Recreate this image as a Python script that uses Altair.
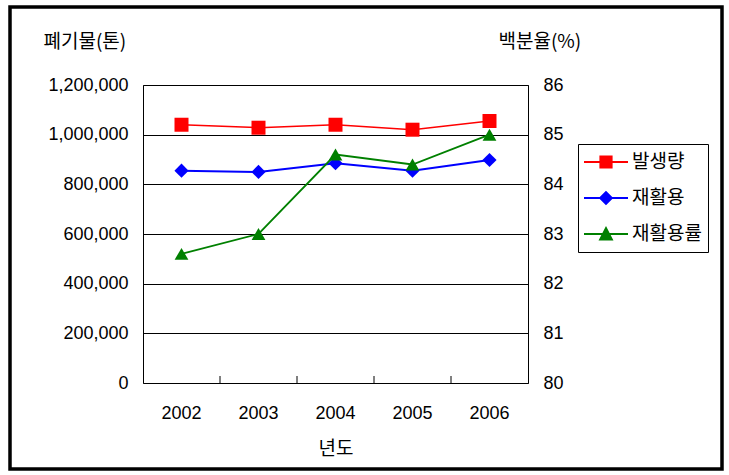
import altair as alt
import pandas as pd

# ---- data ----
years = ["2002", "2003", "2004", "2005", "2006"]
generation = [1040000, 1028000, 1040000, 1020000, 1055000]   # 발생량 (톤)
recycled = [855000, 850000, 885000, 855000, 898000]          # 재활용 (톤)
recycle_rate = [82.6, 83.0, 84.6, 84.4, 85.0]                # 재활용률 (%)

series_names = ["발생량", "재활용", "재활용률"]
series_colors = ["#FF0000", "#0000FF", "#008000"]
left_ticks = [0, 200000, 400000, 600000, 800000, 1000000, 1200000]
right_ticks = [80, 81, 82, 83, 84, 85, 86]

df = pd.DataFrame({"year": years, "gen": generation, "rec": recycled, "rate": recycle_rate})
tick_df = pd.DataFrame({"year": years[1:]})
legend_df = pd.DataFrame({"series": series_names})
frame_df = pd.DataFrame({"k": [0]})

KR = "Noto Sans CJK KR"
NUM = "Liberation Sans"
W, H = 385, 298

x_scale = alt.Scale(type="band", domain=years, paddingInner=0, paddingOuter=0)
x_axis = alt.Axis(title="년도", labelAngle=0, ticks=False, domain=False, grid=False,
                  labelPadding=30, labelBaseline="middle", labelFont=NUM, labelFontSize=18,
                  labelColor="black", titleFont=KR, titleFontSize=19, titleFontWeight="normal",
                  titleColor="black", titleY=65, titleBaseline="middle")


def xenc(**kw):
    return alt.X("year:N", scale=x_scale, axis=x_axis, **kw)


left_axis = alt.Axis(values=left_ticks, format=",.0f", grid=True, gridColor="black", gridWidth=1,
                     gridOpacity=1, ticks=False, domain=False, labelPadding=15, labelFont=NUM,
                     labelFontSize=18, labelColor="black", title="폐기물(톤)", titleAngle=0,
                     titleAlign="left", titleBaseline="middle", titleX=-100, titleY=-44,
                     titleFont=KR, titleFontSize=19, titleFontWeight="normal", titleColor="black")
left_scale = alt.Scale(domain=[0, 1200000], nice=False, zero=True)

right_axis = alt.Axis(values=right_ticks, orient="right", grid=False, ticks=False, domain=False,
                      labelPadding=15, labelFont=NUM, labelFontSize=18, labelColor="black",
                      title="백분율(%)", titleAngle=0, titleAlign="left", titleBaseline="middle",
                      titleX=-30, titleY=-44, titleFont=KR, titleFontSize=19,
                      titleFontWeight="normal", titleColor="black")
right_scale = alt.Scale(domain=[80, 86], nice=False, zero=False)

base = alt.Chart(df)

red_line = base.mark_line(color=series_colors[0], strokeWidth=1.5).encode(
    x=xenc(), y=alt.Y("gen:Q", scale=left_scale, axis=left_axis))
red_pts = base.mark_point(filled=True, shape="square", size=196, color=series_colors[0], opacity=1).encode(
    x=xenc(), y=alt.Y("gen:Q", scale=left_scale, axis=left_axis))
blue_line = base.mark_line(color=series_colors[1], strokeWidth=2).encode(
    x=xenc(), y=alt.Y("rec:Q", scale=left_scale, axis=left_axis))
blue_pts = base.mark_point(filled=True, shape="diamond", size=200, color=series_colors[1], opacity=1).encode(
    x=xenc(), y=alt.Y("rec:Q", scale=left_scale, axis=left_axis))

green_line = base.mark_line(color=series_colors[2], strokeWidth=1.8).encode(
    x=xenc(), y=alt.Y("rate:Q", scale=right_scale, axis=right_axis))
green_pts = base.mark_point(filled=True, shape="triangle-up", size=190, color=series_colors[2], opacity=1).encode(
    x=xenc(), y=alt.Y("rate:Q", scale=right_scale, axis=right_axis))

# inward category tick marks at band boundaries
cat_ticks = alt.Chart(tick_df).mark_rule(color="black", strokeWidth=1).encode(
    x=xenc(bandPosition=0), y=alt.value(H - 7), y2=alt.value(H))

# outer frame of the whole figure
frame = alt.Chart(frame_df).mark_rect(fillOpacity=0, stroke="black", strokeWidth=3.5).encode(
    x=alt.value(-133), x2=alt.value(579), y=alt.value(-78), y2=alt.value(384))

# legend (line-through-marker symbols)
legend_paths = [
    "M-1,-0.045L1,-0.045L1,0.045L-1,0.045Z M-0.3,-0.3L0.3,-0.3L0.3,0.3L-0.3,0.3Z",
    "M-1,-0.045L1,-0.045L1,0.045L-1,0.045Z M0,-0.33L0.33,0L0,0.33L-0.33,0Z",
    "M-1,-0.045L1,-0.045L1,0.045L-1,0.045Z M0,-0.36L0.34,0.3L-0.34,0.3Z",
]
leg = alt.Legend(title=None, orient="none", legendX=435, legendY=59, strokeColor="black",
                 fillColor="white", padding=6, clipHeight=24, rowPadding=12, symbolSize=1936,
                 symbolStrokeWidth=0, symbolOpacity=1, labelFont=KR, labelFontSize=19,
                 labelOffset=4, labelColor="black", labelLimit=0)
legend_layer = alt.Chart(legend_df).mark_point(filled=True, opacity=0).encode(
    color=alt.Color("series:N", scale=alt.Scale(domain=series_names, range=series_colors), legend=leg),
    shape=alt.Shape("series:N", scale=alt.Scale(domain=series_names, range=legend_paths), legend=leg),
)

left = alt.layer(red_line, red_pts, blue_line, blue_pts)
right = alt.layer(green_line, green_pts)

chart = alt.layer(frame, cat_ticks, left, right, legend_layer).resolve_scale(
    y="independent"
).properties(
    width=W, height=H,
    autosize=alt.AutoSizeParams(type="none"),
    padding={"left": 143, "top": 85, "right": 201, "bottom": 92},
    background="white",
).configure_view(stroke="black", strokeWidth=1)

chart.save("out.html", embed_options={"renderer": "svg", "actions": False})
